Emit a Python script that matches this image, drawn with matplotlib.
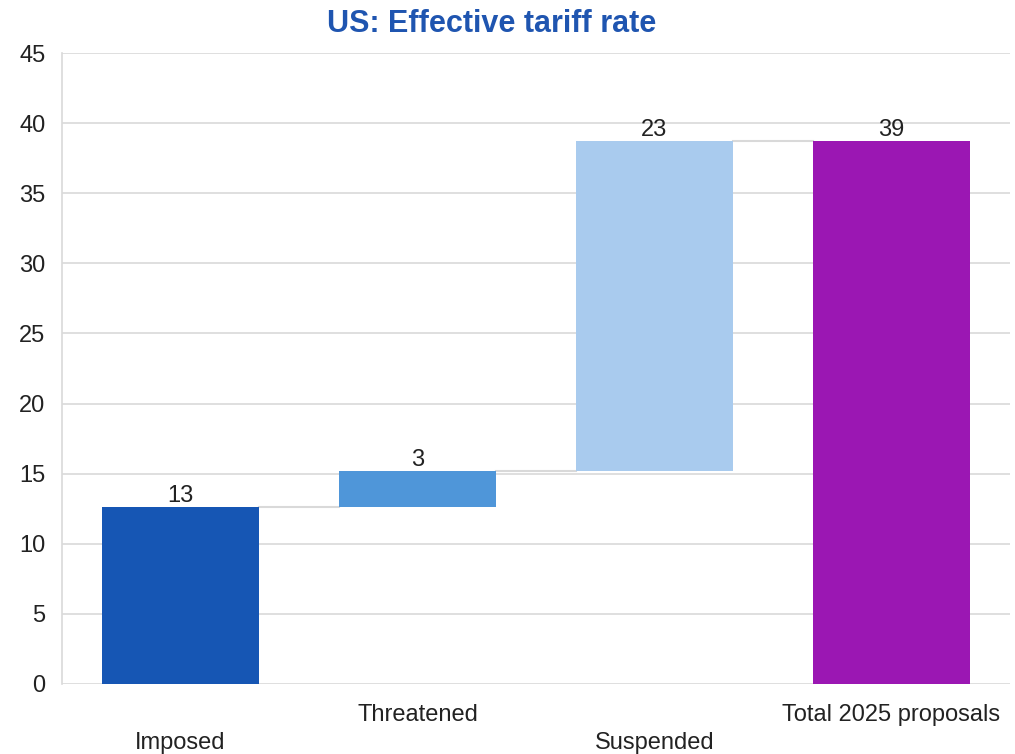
import matplotlib
matplotlib.use('Agg')
import matplotlib.pyplot as plt

categories = ['Imposed', 'Threatened', 'Suspended', 'Total 2025 proposals']
steps = [12.6, 2.6, 23.5]
total = 38.7
labels = ['13', '3', '23', '39']
colors = ['#1656b4', '#4f96d9', '#a9cbee', '#9b17b3']

plt.rcParams['font.family'] = ['Liberation Sans', 'DejaVu Sans']

fig = plt.figure(figsize=(10.15, 7.54), dpi=100)
ax = fig.add_axes([62 / 1015, 1 - 684 / 754, (1010 - 62) / 1015, (684 - 53) / 754])

bottoms = []
acc = 0
for s in steps:
    bottoms.append(acc)
    acc += s
heights = steps + [total]
bottoms.append(0)

x = list(range(len(categories)))
width = 0.66
ax.bar(x, heights, bottom=bottoms, width=width, color=colors, zorder=3)

# connector lines
tops = [b + h for b, h in zip(bottoms, heights)]
for i in range(len(x) - 1):
    ax.plot([x[i] + width / 2, x[i + 1] - width / 2], [tops[i], tops[i]],
            color='#d9d9d9', lw=1.5, zorder=2)

for xi, t, lab in zip(x, tops, labels):
    ax.text(xi, t + 0.02, lab, ha='center', va='bottom', fontsize=17, color='#222222')

ax.set_xlim(-0.5, 3.5)
ax.set_ylim(0, 45)
ax.set_yticks(range(0, 46, 5))
ax.yaxis.grid(True, color='#d9d9d9', lw=1.2, zorder=0)
ax.set_axisbelow(True)
for sp in ['top', 'right', 'bottom']:
    ax.spines[sp].set_visible(False)
ax.spines['left'].set_color('#d9d9d9')
ax.spines['left'].set_linewidth(1.2)
ax.tick_params(axis='y', length=0, labelsize=17, pad=12, labelcolor='#222222')
ax.tick_params(axis='x', length=0, labelsize=17, labelcolor='#222222')

ax.set_xticks(x)
ax.set_xticklabels(categories)
for i, t in enumerate(ax.get_xticklabels()):
    t.set_y(-0.068 if i % 2 == 0 else -0.024)

fig.text(492 / 1015, 1 - 24 / 754, 'US: Effective tariff rate', ha='center', va='center',
         fontsize=22, fontweight='bold', color='#1f55b0')

fig.savefig('out.png', dpi=100)
